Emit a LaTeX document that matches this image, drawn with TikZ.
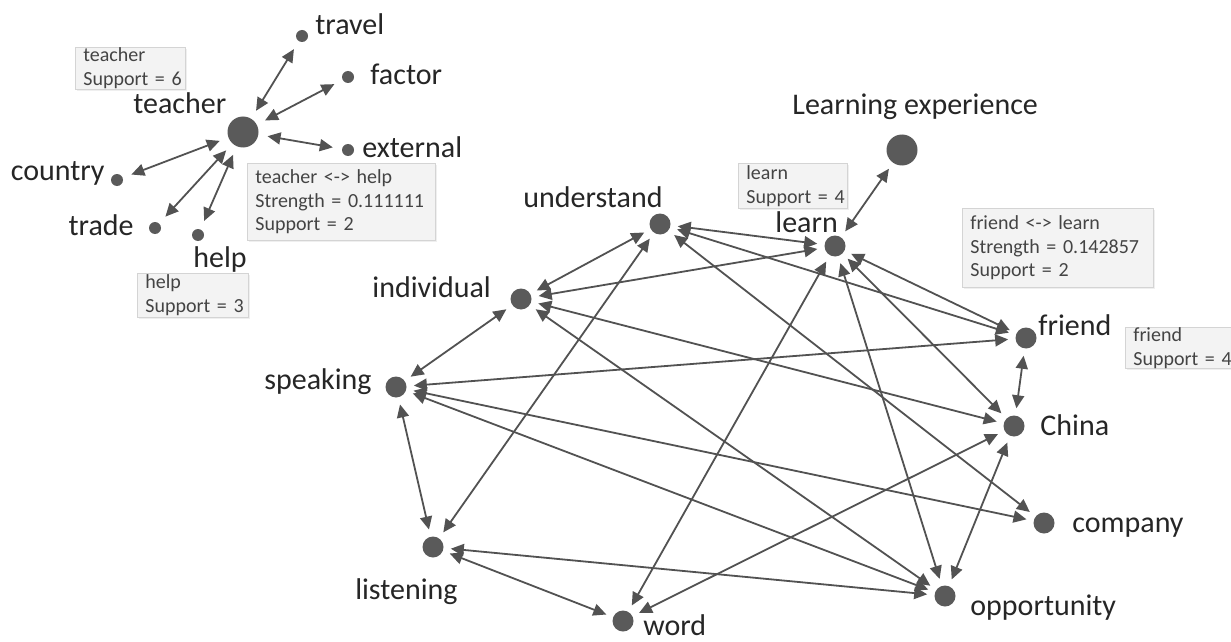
\documentclass[tikz,border=0pt]{standalone}
\usepackage{fontspec}
\setmainfont{Carlito}
\usetikzlibrary{arrows.meta,shadows}
\definecolor{dotgray}{HTML}{5A5A5A}
\definecolor{linkgray}{HTML}{525252}
\definecolor{termtext}{HTML}{262626}
\definecolor{infofill}{HTML}{F3F3F3}
\definecolor{infoline}{HTML}{D4D4D4}
\definecolor{infotext}{HTML}{444444}

\begin{document}
\begin{tikzpicture}[
  x=0.5pt, y=-0.5pt,
  dot/.style={circle, fill=dotgray, inner sep=0pt, minimum size=10.5pt},
  small/.style={dot, minimum size=6pt},
  big/.style={dot, minimum size=15.5pt},
  term/.style={inner sep=0pt, text=termtext, font=\fontsize{15}{18}\selectfont},
  info/.style={draw=infoline, fill=infofill, anchor=north west, align=left, inner xsep=4pt, inner ysep=0pt,
    text=infotext, font=\fontsize{10}{11.8}\selectfont, text width=#1,
    drop shadow={shadow xshift=1pt, shadow yshift=-1pt, opacity=0.12}},
  arrow/.style={{Triangle[length=6.5pt,width=6pt]}-{Triangle[length=6.5pt,width=6pt]}, line width=0.9pt, draw=linkgray,
    shorten <=3.5pt, shorten >=3.5pt},
  spoke/.style={arrow, shorten <=4.5pt, shorten >=4.5pt}
]
\path[use as bounding box, fill=white] (0,0) rectangle (1231,642);

\node[big] (teacher) at (243,132) {};
\node[small] (travel) at (302,36) {};
\node[small] (factor) at (348,77) {};
\node[small] (external) at (348,150) {};
\node[small] (country) at (117,180) {};
\node[small] (trade) at (155,228) {};
\node[small] (help) at (198,235) {};

\node[term, anchor=base west] (teacher-l) at (133,113) {teacher};
\node[term, anchor=base west] (travel-l) at (315,35) {travel};
\node[term, anchor=base west] (factor-l) at (370,85) {factor};
\node[term, anchor=base west] (external-l) at (362,157) {external};
\node[term, anchor=base east] (country-l) at (105,180) {country};
\node[term, anchor=base east] (trade-l) at (134,235) {trade};
\node[term, anchor=base west] (help-l) at (193,267) {help};

\node[big] (experience) at (902,150) {};
\node[dot] (learn) at (835,246) {};
\node[dot] (understand) at (660,224) {};
\node[dot] (individual) at (521,299) {};
\node[dot] (speaking) at (396,387) {};
\node[dot] (listening) at (433,547) {};
\node[dot] (word) at (623,621) {};
\node[dot] (opportunity) at (945,596) {};
\node[dot] (company) at (1044,523) {};
\node[dot] (china) at (1014,426) {};
\node[dot] (friend) at (1026,338) {};

\node[term, anchor=base west] (experience-l) at (792,115) {Learning experience};
\node[term, anchor=base west] (learn-l) at (775,232) {learn};
\node[term, anchor=base west] (understand-l) at (523,207) {understand};
\node[term, anchor=base west] (individual-l) at (372,297) {individual};
\node[term, anchor=base east] (speaking-l) at (372,389) {speaking};
\node[term, anchor=base east] (listening-l) at (458,599) {listening};
\node[term, anchor=base west] (word-l) at (643,635) {word};
\node[term, anchor=base west] (opportunity-l) at (970,615) {opportunity};
\node[term, anchor=base west] (company-l) at (1072,532) {company};
\node[term, anchor=base west] (china-l) at (1040,435) {China};
\node[term, anchor=base west] (friend-l) at (1038,335) {friend};

\node[info=47pt, minimum height=21pt] (teacher-info) at (75,47) {teacher\\Support~=~6};
\node[info=86pt, minimum height=38.5pt] (pair-info) at (247,163) {teacher~<->~help\\Strength~=~0.111111\\Support~=~2};
\node[info=47.5pt, minimum height=22pt] (help-info) at (137,273) {help\\Support~=~3};
\node[info=46.5pt, minimum height=22.5pt] (learn-info) at (738,163) {learn\\Support~=~4};
\node[info=87.5pt, minimum height=39.5pt] (link-info) at (962,208) {friend~<->~learn\\Strength~=~0.142857\\Support~=~2};
\node[info=47pt, minimum height=20.5pt] (friend-info) at (1125,327) {friend\\Support~=~4};

\draw[spoke] (teacher) -- (travel);
\draw[spoke] (teacher) -- (factor);
\draw[spoke] (teacher) -- (external);
\draw[spoke] (teacher) -- (country);
\draw[spoke] (teacher) -- (trade);
\draw[spoke] (teacher) -- (help);

\draw[arrow] (learn) -- (experience);
\draw[arrow] (understand) -- (learn);
\draw[arrow] (understand) -- (individual);
\draw[arrow] (understand) -- (listening);
\draw[arrow] (understand) -- (friend);
\draw[arrow] (understand) -- (company);
\draw[arrow] (learn) -- (individual);
\draw[arrow] (learn) -- (word);
\draw[arrow] (learn) -- (opportunity);
\draw[arrow] (learn) -- (china);
\draw[arrow] (learn) -- (friend);
\draw[arrow] (individual) -- (speaking);
\draw[arrow] (individual) -- (china);
\draw[arrow] (individual) -- (opportunity);
\draw[arrow] (speaking) -- (listening);
\draw[arrow] (speaking) -- (friend);
\draw[arrow] (speaking) -- (company);
\draw[arrow] (speaking) -- (opportunity);
\draw[arrow] (listening) -- (word);
\draw[arrow] (listening) -- (opportunity);
\draw[arrow] (word) -- (china);
\draw[arrow] (opportunity) -- (china);
\draw[arrow] (friend) -- (china);
\end{tikzpicture}
\end{document}
